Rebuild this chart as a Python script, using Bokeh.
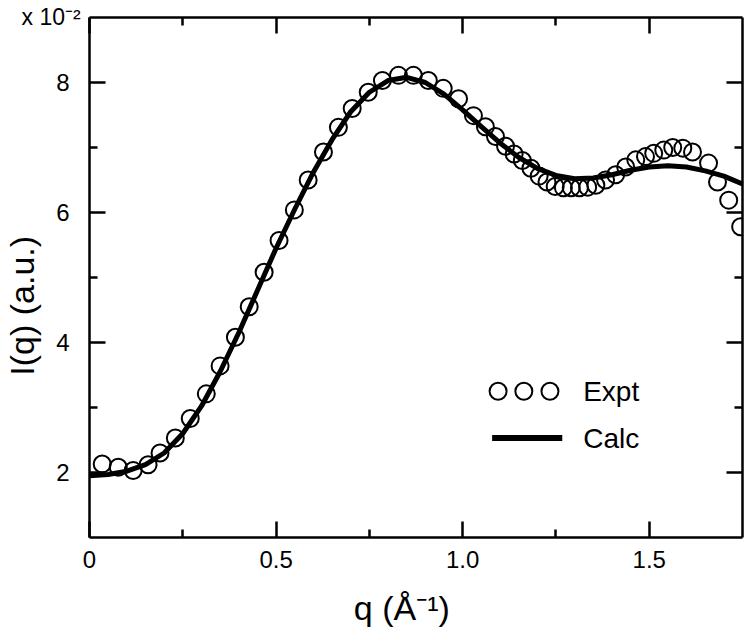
from bokeh.plotting import figure
from bokeh.models import (FixedTicker, CustomJSTickFormatter, LinearAxis, Range1d, Label)
from bokeh.embed import file_html
from bokeh.resources import INLINE

# ---- data ----
expt_q = [0.034, 0.077, 0.117, 0.157, 0.189, 0.230, 0.270, 0.313, 0.350, 0.391,
          0.428, 0.468, 0.508, 0.549, 0.586, 0.627, 0.667, 0.704, 0.747, 0.785,
          0.828, 0.868, 0.908, 0.948, 0.989, 1.029, 1.061, 1.088, 1.115, 1.138,
          1.160, 1.183, 1.205, 1.226, 1.248, 1.270, 1.291, 1.313, 1.335, 1.357,
          1.383, 1.410, 1.437, 1.464, 1.490, 1.512, 1.539, 1.563, 1.590, 1.616,
          1.659, 1.683, 1.713, 1.745]
expt_I = [2.13, 2.08, 2.03, 2.12, 2.30, 2.53, 2.83, 3.21, 3.64, 4.08,
          4.55, 5.08, 5.57, 6.04, 6.50, 6.93, 7.31, 7.60, 7.85, 8.03,
          8.11, 8.11, 8.03, 7.91, 7.75, 7.49, 7.32, 7.17, 7.02, 6.90,
          6.80, 6.68, 6.56, 6.47, 6.40, 6.38, 6.38, 6.38, 6.39, 6.42,
          6.50, 6.58, 6.70, 6.81, 6.86, 6.91, 6.96, 7.00, 6.99, 6.93,
          6.76, 6.47, 6.19, 5.78]
calc_q = [0.00, 0.05, 0.10, 0.15, 0.20, 0.25, 0.30, 0.35, 0.40, 0.45,
          0.50, 0.55, 0.60, 0.65, 0.70, 0.75, 0.80, 0.85, 0.90, 0.95,
          1.00, 1.05, 1.10, 1.15, 1.20, 1.25, 1.30, 1.35, 1.40, 1.45,
          1.50, 1.55, 1.60, 1.65, 1.70, 1.75]
calc_I = [1.95, 1.97, 2.02, 2.12, 2.30, 2.60, 3.02, 3.55, 4.15, 4.80,
          5.45, 6.05, 6.62, 7.12, 7.55, 7.85, 8.03, 8.08, 8.00, 7.82,
          7.58, 7.32, 7.07, 6.85, 6.68, 6.57, 6.52, 6.53, 6.58, 6.65,
          6.70, 6.72, 6.70, 6.64, 6.56, 6.44]
x_ticks = [0, 0.5, 1.0, 1.5]
x_minor = [0.25, 0.75, 1.25]
y_ticks = [2, 4, 6, 8]
y_minor = [3, 5, 7]
series_names = ["Expt", "Calc"]
x_title = "q (Å⁻¹)"
y_title = "I(q) (a.u.)"
multiplier = "x 10\\u207b\\u00b2"   # x 10^-2 (JS escape)

NBSP = "\u00a0"
FONT = "Liberation Sans"
W, H = 748, 635

p = figure(width=W, height=H, output_backend="svg", toolbar_location=None,
           x_range=Range1d(0, 1.75), y_range=Range1d(1, 9),
           x_axis_type=None, y_axis_type=None,
           min_border_left=89, min_border_top=17, min_border_right=6, min_border_bottom=98)
p.xgrid.visible = False
p.ygrid.visible = False
p.outline_line_color = None
p.background_fill_color = "white"
p.border_fill_color = "white"

fmt_x = CustomJSTickFormatter(code="return tick == 0 ? '0' : tick.toFixed(1);")
# multiplier shown at the top-left corner (padding shifts it left of the frame corner)
fmt_top = CustomJSTickFormatter(
    code="return tick == 0 ? '%s' + '\\u00a0'.repeat(12) : '';" % multiplier)

def style(ax, labels=True):
    ax.axis_line_width = 2.5
    ax.axis_line_color = "black"
    ax.major_tick_in = 16
    ax.major_tick_out = 0
    ax.minor_tick_in = 8
    ax.minor_tick_out = 0
    ax.major_tick_line_width = 2.5
    ax.minor_tick_line_width = 2.5
    ax.major_tick_line_color = "black"
    ax.minor_tick_line_color = "black"
    ax.major_label_text_font = FONT
    ax.major_label_text_color = "black"
    ax.axis_label_text_font = FONT
    ax.axis_label_text_color = "black"
    ax.axis_label_text_font_style = "normal"
    if labels:
        ax.major_label_text_font_size = "24px"
    else:
        ax.major_label_text_font_size = "0px"
        ax.major_label_standoff = 0

xb = LinearAxis(ticker=FixedTicker(ticks=x_ticks, minor_ticks=x_minor), formatter=fmt_x)
style(xb)
xb.major_label_standoff = 13
xb.axis_label = x_title + NBSP * 3
xb.axis_label_text_font_size = "34px"
xb.axis_label_standoff = 18
p.add_layout(xb, "below")

xt = LinearAxis(ticker=FixedTicker(ticks=x_ticks, minor_ticks=x_minor), formatter=fmt_top)
style(xt)
xt.major_label_text_font_size = "23px"
xt.major_label_standoff = -12
p.add_layout(xt, "above")

yl = LinearAxis(ticker=FixedTicker(ticks=y_ticks, minor_ticks=y_minor))
style(yl)
yl.major_label_standoff = 20
yl.axis_label = y_title + NBSP * 6
yl.axis_label_text_font_size = "34px"
yl.axis_label_standoff = 12
p.add_layout(yl, "left")

yr = LinearAxis(ticker=FixedTicker(ticks=y_ticks, minor_ticks=y_minor))
style(yr, False)
p.add_layout(yr, "right")

# data
p.line(calc_q, calc_I, line_color="black", line_width=5)
p.scatter(expt_q, expt_I, marker="circle", size=17, fill_color=None,
          line_color="black", line_width=2)

# legend (manual, three circles like the original)
leg_circ_x = [1.095, 1.164, 1.234]
p.scatter(leg_circ_x, [3.25] * 3, marker="circle", size=17, fill_color=None,
          line_color="black", line_width=2)
p.line([1.079, 1.267], [2.53, 2.53], line_color="black", line_width=6)
for txt, yy in zip(series_names, [3.25, 2.53]):
    p.add_layout(Label(x=1.323, y=yy, text=txt, text_font=FONT,
                       text_font_size="28px", text_baseline="middle",
                       text_align="left", text_color="black"))

open("out.html", "w", encoding="utf-8").write(file_html(p, INLINE))
